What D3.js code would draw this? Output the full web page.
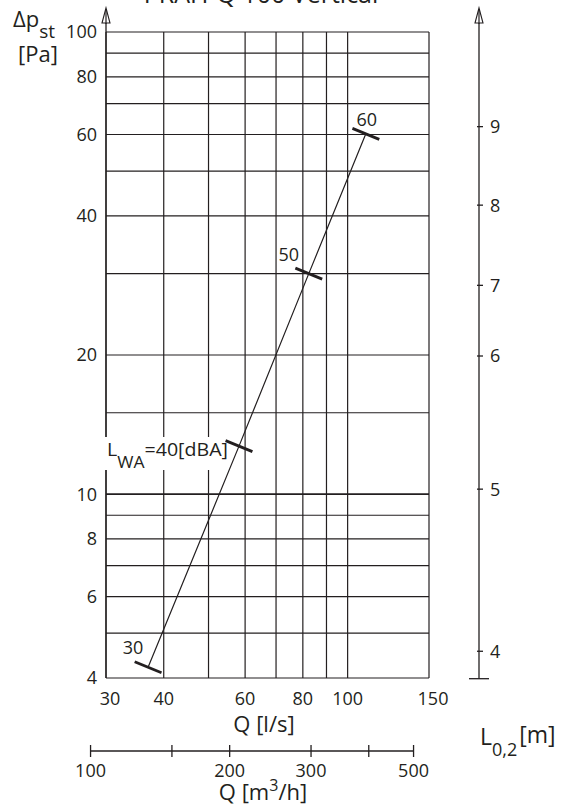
<!DOCTYPE html>
<html><head><meta charset="utf-8">
<script src="https://cdn.jsdelivr.net/npm/d3@7/dist/d3.min.js"></script>
<style>
html,body{margin:0;padding:0;background:#fff;}
svg{display:block;}
text{font-family:"Open Sans","Noto Sans",sans-serif;fill:#231f20;}
</style></head>
<body>
<script>
// ---- data ----
const title = "PRAH-Q 100 Vertical";
const qGrid = [30,40,50,60,70,80,90,100,150];          // l/s grid lines
const qTicks = [30,40,60,80,100,150];                   // l/s labels
const dpGrid = [100,90,80,70,60,50,40,30,20,15,10,9,8,7,6,5,4]; // Pa grid lines
const dpTicks = [100,80,60,40,20,10,8,6,4];             // Pa labels
const m3hTicks = [100,150,200,300,400,500];             // m3/h ticks
const m3hLabels = [100,200,300,500];                    // m3/h labels
const lwaLevels = [30,40,50,60];                        // dBA
const lwaQ = [37.0,58.2,82.4,109.5];                    // l/s
const lwaDp = [4.22,12.7,30.0,60.2];                    // Pa
const l02Ticks = [4,5,6,7,8,9];                         // m
const l02Dp = [4.57,10.25,19.9,28.3,42.2,62.4];         // equivalent Pa position

// ---- layout ----
const W = 566, H = 809;
const svg = d3.select("body").append("svg").attr("width", W).attr("height", H);
const x = d3.scaleLog().domain([30,150]).range([106,429]);
const y = d3.scaleLog().domain([4,100]).range([678,32]);
const toLs = v => v/3.6;
const ink = "#231f20";

// title (clipped at top)
svg.append("text").attr("x",261).attr("y",3).attr("text-anchor","middle")
  .style("font-size","25px").text(title);

// grid
const g = svg.append("g");
g.selectAll("line.h").data(dpGrid).join("line")
  .attr("x1",x(30)).attr("x2",x(150))
  .attr("y1",d=>y(d)).attr("y2",d=>y(d))
  .attr("stroke",ink).attr("stroke-width",d=>d===10?1.8:1.2);
g.selectAll("line.v").data(qGrid).join("line")
  .attr("y1",y(4)).attr("y2",y(100))
  .attr("x1",d=>x(d)).attr("x2",d=>x(d))
  .attr("stroke",ink).attr("stroke-width",1.2);

// axis line with open arrow
function arrowAxis(px, yBottom){
  svg.append("line").attr("x1",px).attr("x2",px).attr("y1",yBottom).attr("y2",9)
    .attr("stroke",ink).attr("stroke-width",1.3);
  svg.append("path").attr("d",`M${px},8 L${px-4},23 L${px+4},23 Z`)
    .attr("fill","#fff").attr("stroke",ink).attr("stroke-width",1.1);
  svg.append("line").attr("x1",px).attr("x2",px).attr("y1",9).attr("y2",24)
    .attr("stroke",ink).attr("stroke-width",1.2);
}
arrowAxis(x(30), y(4));

// left tick labels
svg.append("g").selectAll("text").data(dpTicks).join("text")
  .attr("x",97).attr("y",d=>y(d)).attr("dy","0.36em").attr("text-anchor","end")
  .style("font-size","18px").text(d=>d);

// bottom tick labels l/s
svg.append("g").selectAll("text").data(qTicks).join("text")
  .attr("x",d=>x(d)+(d===30||d===150?4:0)).attr("y",705).attr("text-anchor","middle")
  .style("font-size","18px").text(d=>d);

// axis titles
const yt = svg.append("text").attr("x",13).attr("y",27).style("font-size","22px");
yt.append("tspan").text("Δp");
yt.append("tspan").attr("dy",11).style("font-size","19px").text("st");
svg.append("text").attr("x",18).attr("y",62).style("font-size","22px").text("[Pa]");

svg.append("text").attr("x",264).attr("y",732).attr("text-anchor","middle")
  .style("font-size","22px").text("Q [l/s]");

// m3/h axis
const m3y = 751;
svg.append("line").attr("x1",x(toLs(100))).attr("x2",x(toLs(500)))
  .attr("y1",m3y).attr("y2",m3y).attr("stroke",ink).attr("stroke-width",1.3);
svg.append("g").selectAll("line").data(m3hTicks).join("line")
  .attr("x1",d=>x(toLs(d))).attr("x2",d=>x(toLs(d)))
  .attr("y1",m3y-6).attr("y2",m3y+6).attr("stroke",ink).attr("stroke-width",1.3);
svg.append("g").selectAll("text").data(m3hLabels).join("text")
  .attr("x",d=>x(toLs(d))).attr("y",777).attr("text-anchor","middle")
  .style("font-size","18px").text(d=>d);
const qt = svg.append("text").attr("x",263).attr("y",800).attr("text-anchor","middle")
  .style("font-size","22px");
qt.append("tspan").text("Q [m");
qt.append("tspan").attr("dy",-9).style("font-size","16px").text("3");
qt.append("tspan").attr("dy",9).text("/h]");

// right axis L0,2
const rx = 479;
const r = d3.scaleLinear().domain(l02Ticks).range(l02Dp.map(v=>y(v)));
arrowAxis(rx, y(4)+0.7);
svg.append("line").attr("x1",rx-10).attr("x2",rx+10).attr("y1",y(4)+0.7).attr("y2",y(4)+0.7)
  .attr("stroke",ink).attr("stroke-width",1.3);
svg.append("g").selectAll("line").data(l02Ticks).join("line")
  .attr("x1",rx-2).attr("x2",rx+4).attr("y1",d=>r(d)).attr("y2",d=>r(d))
  .attr("stroke",ink).attr("stroke-width",1.3);
svg.append("g").selectAll("text").data(l02Ticks).join("text")
  .attr("x",rx+11).attr("y",d=>r(d)).attr("dy","0.36em")
  .style("font-size","18px").text(d=>d);
const lt = svg.append("text").attr("x",480).attr("y",745).style("font-size","23px");
lt.append("tspan").text("L");
lt.append("tspan").attr("dy",11).style("font-size","18px").text("0,2");
lt.append("tspan").attr("dy",-13).attr("dx",2).text("[m]");

// LWA label background box
svg.append("rect").attr("x",105).attr("y",437).attr("width",125).attr("height",33).attr("fill","#fff");

// LWA line
const pts = lwaLevels.map((l,i)=>({l, q:lwaQ[i], p:lwaDp[i]}));
svg.append("path").datum(pts)
  .attr("d", d3.line().x(d=>x(d.q)).y(d=>y(d.p)))
  .attr("fill","none").attr("stroke",ink).attr("stroke-width",1.2);

// markers perpendicular to the line
const p0 = pts[0], p1 = pts[pts.length-1];
const dx = x(p1.q)-x(p0.q), dy = y(p1.p)-y(p0.p);
const len = Math.hypot(dx,dy);
const nx = -dy/len, ny = dx/len; // perpendicular
const half = 14.5;
svg.append("g").selectAll("line").data(pts).join("line")
  .attr("x1",d=>x(d.q)-nx*half).attr("y1",d=>y(d.p)-ny*half)
  .attr("x2",d=>x(d.q)+nx*half).attr("y2",d=>y(d.p)+ny*half)
  .attr("stroke",ink).attr("stroke-width",2.8);

// marker labels
const labelOffsets = {30:[-15,-13],50:[-20,-13],60:[1,-8]};
svg.append("g").selectAll("text").data(pts.filter(d=>d.l!==40)).join("text")
  .attr("x",d=>x(d.q)+labelOffsets[d.l][0]).attr("y",d=>y(d.p)+labelOffsets[d.l][1])
  .attr("text-anchor","middle").style("font-size","18px").text(d=>d.l);
const p40 = pts[1];
const lw = svg.append("text").attr("x",x(p40.q)-11).attr("y",y(p40.p)+10)
  .attr("text-anchor","end").attr("textLength",121).attr("lengthAdjust","spacingAndGlyphs")
  .style("font-size","19px");
lw.append("tspan").text("L");
lw.append("tspan").attr("dy",12).style("font-size","17px").text("WA");
lw.append("tspan").attr("dy",-12).text("=" + p40.l + "[dBA]");
</script>
</body></html>
